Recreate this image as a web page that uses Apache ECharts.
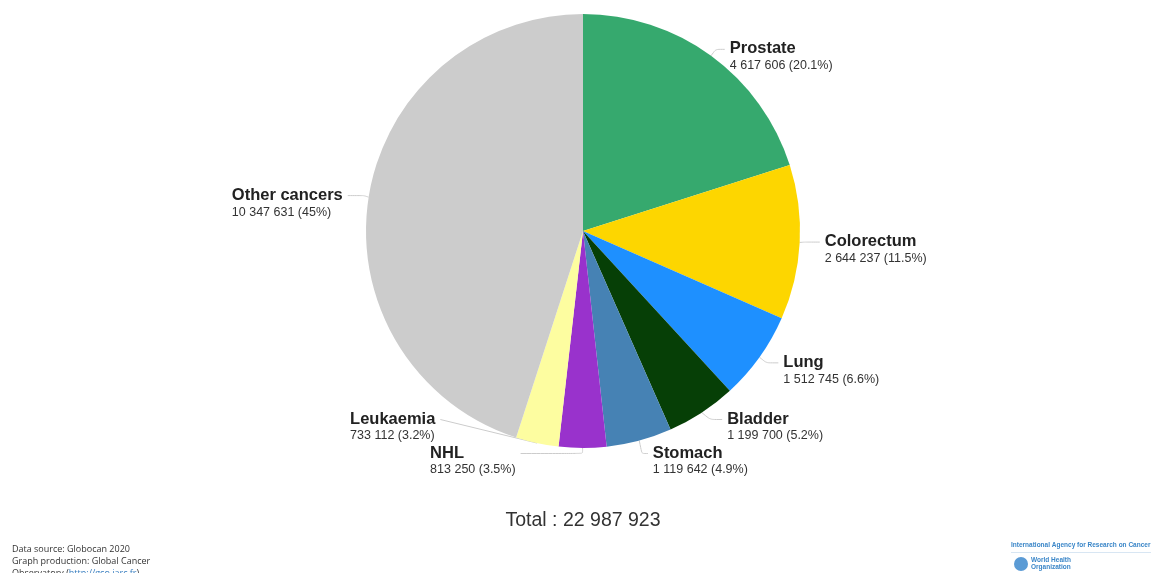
<!DOCTYPE html>
<html><head><meta charset="utf-8">
<script src="https://cdn.jsdelivr.net/npm/echarts@6/dist/echarts.min.js"></script>
<style>html,body{margin:0;padding:0;background:#fff}#c{width:1174px;height:573px}</style>
</head><body><div id="c"></div>
<script>
const categories = ['Prostate','Colorectum','Lung','Bladder','Stomach','NHL','Leukaemia','Other cancers'];
const values = [4617606, 2644237, 1512745, 1199700, 1119642, 813250, 733112, 10347631];
const colors = ['#36a96e','#fdd600','#1e90ff','#063f06','#4682b4','#9932cc','#fdfda0','#cccccc'];
const totalLabel = 'Total : 22 987 923';
const footerLines = ['Data source: Globocan 2020','Graph production: Global Cancer'];
const footerLink = 'http://gco.iarc.fr';

function fmt(n){return String(n).replace(/\B(?=(\d{3})+(?!\d))/g,' ');}
const total = values.reduce((a,b)=>a+b,0);
function pct(v){let p=(v/total*100).toFixed(1); if(p.endsWith('.0')) p=p.slice(0,-2); return p;}

const lineCfg = {
  'Prostate':{length:8,length2:9},
  'Colorectum':{length:10,length2:15},
  'Lung':{length:12,length2:12},
  'Stomach':{length:10,length2:6},
  'NHL':{length:10,length2:62},
  'Leukaemia':{length:8,length2:28},
  'Other cancers':{length:10,length2:16}
};

const chart = echarts.init(document.getElementById('c'));
chart.setOption({
  animation:false,
  series:[{
    type:'pie',
    left:0, top:0, width:1174, height:470,
    center:[583,231],
    radius:[0,217],
    startAngle:90,
    clockwise:true,
    avoidLabelOverlap:true,
    data:categories.map((c,i)=>{
      const d={name:c,value:values[i],itemStyle:{color:colors[i]}};
      if(lineCfg[c]) d.labelLine=lineCfg[c];
      return d;
    }),
    itemStyle:{borderWidth:0},
    label:{
      show:true,
      formatter:p=>'{n|'+p.name+'}\n{v|'+fmt(p.value)+' ('+pct(p.value)+'%)}',
      rich:{
        n:{fontFamily:'Liberation Sans, Arial, sans-serif',fontSize:16.5,fontWeight:'bold',color:'#222',lineHeight:18,align:'left'},
        v:{fontFamily:'Liberation Sans, Arial, sans-serif',fontSize:12.5,color:'#333',lineHeight:16,align:'left'}
      }
    },
    labelLayout:function(p){
      if(!p.labelRect) return {};
      return {
        y: p.labelRect.y + p.labelRect.height/2 + 8,
        labelLinePoints: p.labelLinePoints
      };
    },
    labelLine:{show:true,length:10,length2:12,smooth:0.2,lineStyle:{color:'#cccccc',width:1}}
  }],
  graphic:[
    {type:'text',x:583,y:521,style:{text:totalLabel,align:'center',verticalAlign:'middle',font:'19.5px "Liberation Sans", Arial, sans-serif',fill:'#333'}},
    {type:'text',left:12,top:543,style:{
      text:footerLines.join('\n')+'\nObservatory ({l|'+footerLink+'})',
      font:'9px "Open Sans", sans-serif',fill:'#333',lineHeight:12,
      rich:{l:{font:'9px "Open Sans", sans-serif',fill:'#3a7fc0',lineHeight:12}}
    }},
    {type:'text',left:1011,top:542,style:{text:'International Agency for Research on Cancer',font:'bold 6.5px "Liberation Sans Narrow", Arial, sans-serif',fill:'#3a86c8'}},
    {type:'rect',shape:{x:1011,y:552,width:140,height:1},style:{fill:'#d8e6f3'}},
    {type:'circle',shape:{cx:1021,cy:564,r:7},style:{fill:'#5b9bd5'}},
    {type:'text',left:1031,top:557,style:{text:'World Health\nOrganization',font:'bold 6.5px "Liberation Sans Narrow", Arial, sans-serif',fill:'#3a86c8',lineHeight:7}}
  ]
});
</script></body></html>
